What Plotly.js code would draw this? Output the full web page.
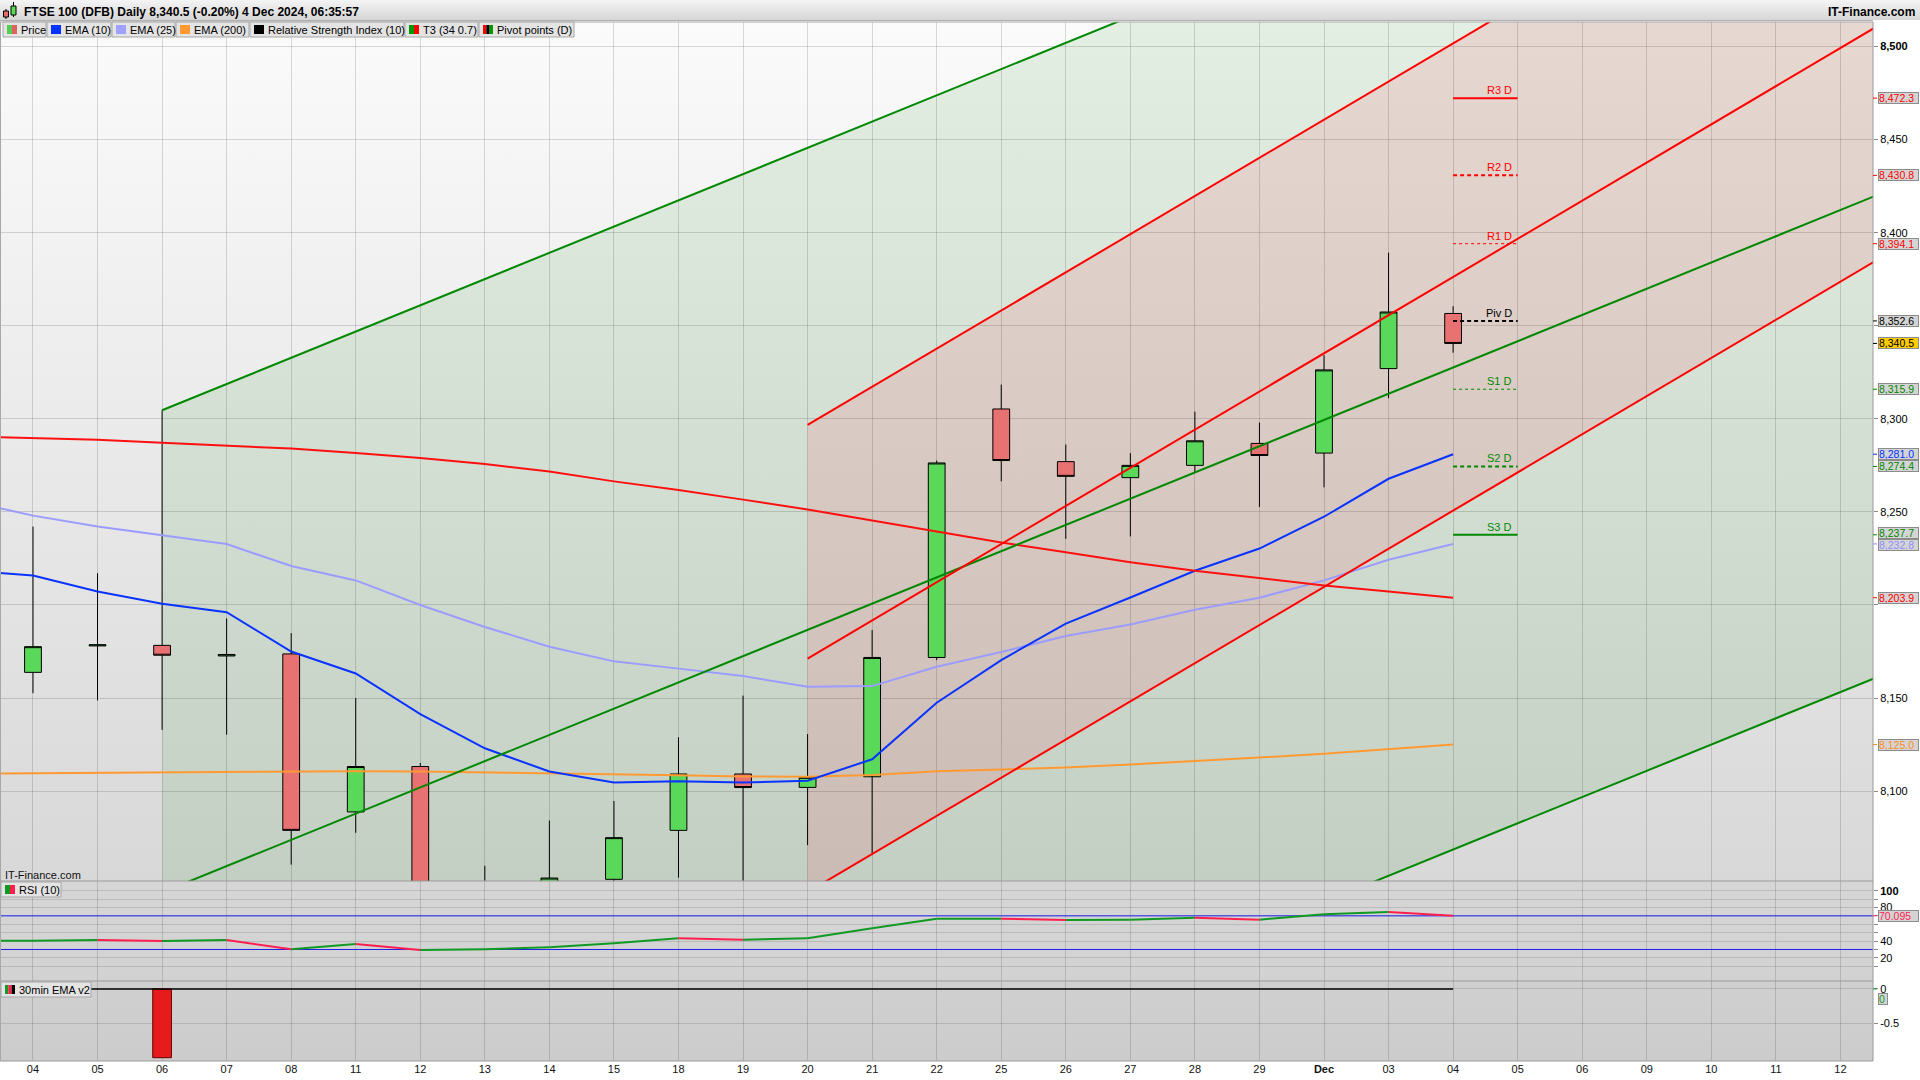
<!DOCTYPE html>
<html><head><meta charset="utf-8">
<script src="https://cdn.plot.ly/plotly-3.0.1.min.js"></script>
<style>
html,body{margin:0;padding:0;background:#fff;}
#chart{width:1920px;height:1080px;background-color:#fff;
background-image:linear-gradient(#f4f4f4,#d6d6d6),linear-gradient(#fbfbfb,#d8d8d8),linear-gradient(#d6d6d6,#d2d2d2),linear-gradient(#d0d0d0,#cccccc);
background-size:1920px 20px,1873px 859px,1873px 100px,1873px 80px;
background-position:0 0,0 22px,0 881px,0 981px;background-repeat:no-repeat;}
</style></head>
<body><div id="chart"></div>
<script>
// ---------- DATA ----------
const axisLabels = ['04','05','06','07','08','11','12','13','14','15','18','19','20','21','22','25','26','27','28','29','Dec','03','04','05','06','09','10','11','12'];
// daily candles 4 Nov .. 4 Dec 2024
const candleOpen  = [8163.8,8178.0,8178.3,8172.6,8173.7,8088.8,8113.2,8030.0,8035.0,8052.6,8078.9,8109.2,8102.0,8107.7,8171.8,8305.3,8277.0,8268.4,8275.0,8286.8,8281.6,8327.0,8356.6];
const candleHigh  = [8242.1,8217.1,8304.6,8192.8,8184.9,8150.0,8115.1,8059.9,8084.2,8094.7,8128.9,8151.3,8130.6,8186.5,8277.6,8318.4,8286.2,8281.6,8303.9,8298.0,8334.2,8389.3,8360.5];
const candleLow   = [8152.6,8148.7,8132.9,8130.3,8060.5,8077.6,8010.0,8000.0,8020.0,8045.0,8053.5,8045.0,8071.0,8066.5,8170.4,8266.4,8235.5,8236.8,8271.0,8252.6,8263.2,8311.1,8335.5];
const candleClose = [8177.6,8178.6,8173.0,8173.4,8078.9,8113.2,8025.0,8050.0,8053.3,8075.0,8109.2,8101.9,8107.4,8171.8,8276.3,8277.6,8269.1,8275.0,8288.2,8280.3,8326.3,8357.4,8340.5];
// indicator series: first value is the prior session (1 Nov), then 4 Nov .. 4 Dec
const ema10  = [8218.4,8215.8,8207.2,8200.7,8196.1,8175.0,8163.2,8141.4,8123.0,8110.5,8104.6,8105.3,8104.6,8105.6,8117.1,8147.5,8170.4,8190.0,8204.0,8218.4,8230.3,8247.4,8267.8,8281.0];
const ema25  = [8255.8,8248.0,8242.1,8237.4,8232.7,8220.9,8213.2,8200.0,8188.2,8177.6,8169.7,8165.8,8161.8,8156.0,8156.4,8166.8,8174.7,8183.3,8189.5,8197.4,8203.9,8213.2,8224.3,8232.8];
const ema200 = [8109.3,8109.5,8109.8,8110.1,8110.4,8110.6,8110.7,8110.5,8110.1,8109.6,8109.0,8108.5,8107.9,8107.7,8108.6,8110.7,8111.6,8112.7,8114.3,8116.0,8118.0,8120.1,8122.5,8125.0];
const t3     = [8290.6,8289.5,8288.8,8287.2,8285.8,8284.0,8281.6,8279.0,8275.7,8271.7,8266.4,8261.8,8256.6,8251.3,8245.4,8239.5,8233.6,8228.3,8223.0,8218.4,8214.5,8210.5,8207.2,8203.9];
const rsi10  = [40.3,40.5,41.3,40.1,41.3,30.2,36.5,29.4,30.2,32.6,37.4,43.3,41.7,43.3,55.2,66.7,66.7,65.1,65.5,67.9,65.5,71.9,74.6,70.095];
const rsiBands = [70, 30];
const ema30min = [0,0,-1,0,0,0,0,0,0,0,0,0,0,0,0,0,0,0,0,0,0,0,0];
// daily pivot points
const pivotNames  = ['R3 D','R2 D','R1 D','Piv D','S1 D','S2 D','S3 D'];
const pivotLevels = [8472.3,8430.8,8394.1,8352.6,8315.9,8274.4,8237.7];
// regression channels (start session index, end index) and their three lines
const greenChannelX      = [2, 29];
const greenChannelUpper  = [8304.6, 8685.3];
const greenChannelMiddle = [8045.6, 8426.3];
const greenChannelLower  = [7786.6, 8167.3];
const redChannelX        = [12, 29];
const redChannelUpper    = [8296.7, 8645.2];
const redChannelMiddle   = [8171.2, 8519.7];
const redChannelLower    = [8045.7, 8394.2];
const mainTickVals = [8100,8150,8200,8250,8300,8350,8400,8450,8500];
const mainTickHidden = [8200, 8350];   // covered by value boxes in the original
const rsiTicks = [10,20,30,40,50,60,70,80,90,100];
const rsiTickLabels = ['','20','','40','','','','80','','100'];   // 60 is covered by the RSI value box

// ---------- GEOMETRY HELPERS ----------
const W = 1873, TOP = 22, BOT = 1061, PH = BOT - TOP;
const px = x => x / W;
const py = y => (BOT - y) / PH;
const yMainRange = [8051.7, 8513.2];
const FONT = '"Liberation Sans", Arial, Helvetica, sans-serif';

const candleX = candleOpen.map((_, i) => i);
const lineX = [-1].concat(candleX);
const lastIdx = candleX[candleX.length - 1];
const last = a => a[a.length - 1];
const fmt1 = v => v.toLocaleString('en-US', {minimumFractionDigits:1, maximumFractionDigits:1});

const traces = [];
traces.push({type:'candlestick', x:candleX, open:candleOpen, high:candleHigh, low:candleLow, close:candleClose,
  xaxis:'x', yaxis:'y', whiskerwidth:0,
  increasing:{line:{color:'#000', width:1}, fillcolor:'#5ad85a'},
  decreasing:{line:{color:'#000', width:1}, fillcolor:'#e87272'},
  hoverinfo:'skip'});
const lineTrace = (y, color, w) => ({type:'scatter', mode:'lines', x:lineX, y, xaxis:'x', yaxis:'y', line:{color, width:w}, hoverinfo:'skip'});
traces.push(lineTrace(ema200, '#ff9a33', 2));
traces.push(lineTrace(ema25, '#9c9cff', 2));
traces.push(lineTrace(ema10, '#0a33ff', 2));
traces.push(lineTrace(t3, '#ff1010', 2));
[greenChannelUpper, greenChannelMiddle, greenChannelLower].forEach(y =>
  traces.push({type:'scatter', mode:'lines', x:greenChannelX, y, xaxis:'x', yaxis:'y', line:{color:'#008800', width:2}, hoverinfo:'skip'}));
[redChannelUpper, redChannelMiddle, redChannelLower].forEach(y =>
  traces.push({type:'scatter', mode:'lines', x:redChannelX, y, xaxis:'x', yaxis:'y', line:{color:'#ff0000', width:2}, hoverinfo:'skip'}));
const pivotColors = ['#ff0000','#ff0000','#ff0000','#000000','#008800','#008800','#008800'];
const pivotDash   = ['solid','4px,3px','3px,3px','4px,3px','3px,3px','4px,3px','solid'];
const pivotWidth  = [2,2,1,2,1,2,2];
pivotLevels.forEach((v, k) => traces.push({type:'scatter', mode:'lines', x:[lastIdx, lastIdx + 1], y:[v, v], xaxis:'x', yaxis:'y',
  line:{color:pivotColors[k], width:pivotWidth[k], dash:pivotDash[k]}, hoverinfo:'skip'}));

rsiBands.forEach(b => traces.push({type:'scatter', mode:'lines', x:[-1, 29], y:[b, b], xaxis:'x', yaxis:'y2', line:{color:'#2020ee', width:1}, hoverinfo:'skip'}));
const upX=[], upY=[], dnX=[], dnY=[];
for (let i = 1; i < rsi10.length; i++) {
  const up = rsi10[i] >= rsi10[i-1];
  (up ? upX : dnX).push(lineX[i-1], lineX[i], null);
  (up ? upY : dnY).push(rsi10[i-1], rsi10[i], null);
}
traces.push({type:'scatter', mode:'lines', x:upX, y:upY, xaxis:'x', yaxis:'y2', line:{color:'#119a22', width:2}, hoverinfo:'skip', connectgaps:false});
traces.push({type:'scatter', mode:'lines', x:dnX, y:dnY, xaxis:'x', yaxis:'y2', line:{color:'#ff1f4f', width:2}, hoverinfo:'skip', connectgaps:false});

const barX = [], barY = [];
ema30min.forEach((v, i) => { if (v !== 0) { barX.push(candleX[i]); barY.push(v); } });
traces.push({type:'scatter', mode:'lines', x:[lineX[0], lastIdx], y:[0, 0], xaxis:'x', yaxis:'y3', line:{color:'#000', width:1.5}, hoverinfo:'skip'});
traces.push({type:'bar', x:barX, y:barY, width:0.29, xaxis:'x', yaxis:'y3', marker:{color:'#e61c1c', line:{color:'#6a0000', width:1}}, hoverinfo:'skip'});

// ---------- SHAPES ----------
const shapes = [];
const pathOf = (xs, lo, hi) => `M${xs[0]},${lo[0]} L${xs[0]},${hi[0]} L${xs[1]},${hi[1]} L${xs[1]},${lo[1]} Z`;
shapes.push({type:'path', xref:'x', yref:'y', layer:'below', fillrule:'evenodd',
  path: pathOf(greenChannelX, greenChannelLower, greenChannelUpper) + ' ' + pathOf(redChannelX, redChannelLower, redChannelUpper),
  fillcolor:'rgba(0,125,0,0.09)', line:{width:0}});
shapes.push({type:'path', xref:'x', yref:'y', layer:'below',
  path: pathOf(redChannelX, redChannelLower, redChannelUpper),
  fillcolor:'rgba(150,80,40,0.2)', line:{width:0}});
const hline = (y, c) => ({type:'line', xref:'paper', yref:'paper', x0:0, x1:1, y0:py(y), y1:py(y), line:{color:c, width:1}, layer:'above'});
shapes.push(hline(22, '#a8a8a8'), hline(881, '#9a9a9a'), hline(981, '#9a9a9a'), hline(1061, '#9a9a9a'));
shapes.push({type:'line', xref:'paper', yref:'paper', x0:1, x1:1, y0:0, y1:1, line:{color:'#9a9a9a', width:1}, layer:'above'});
shapes.push({type:'line', xref:'paper', yref:'paper', x0:px(0.5), x1:px(0.5), y0:0, y1:1, line:{color:'#a8a8a8', width:1}, layer:'above'});

const annotations = [];
const rectPx = (x0, x1, y0, y1, fill, lineC) => ({type:'rect', xref:'paper', yref:'paper', x0:px(x0), x1:px(x1), y0:py(y1), y1:py(y0), fillcolor:fill, line:{color:lineC || fill, width: lineC ? 1 : 0}, layer:'above'});
shapes.push(hline(20.5, '#b0b0b0'));
shapes.push({type:'line', xref:'paper', yref:'paper', x0:px(6), x1:px(6), y0:py(19), y1:py(9), line:{color:'#000', width:1}, layer:'above'});
shapes.push(rectPx(3.5, 8.5, 11, 17, '#e86a6a', '#000'));
shapes.push({type:'line', xref:'paper', yref:'paper', x0:px(13.5), x1:px(13.5), y0:py(17), y1:py(2), line:{color:'#000', width:1}, layer:'above'});
shapes.push(rectPx(11, 16, 6, 15, '#5ad85a', '#000'));
annotations.push({xref:'paper', yref:'paper', x:px(22), y:py(11.5), xanchor:'left', yanchor:'middle', showarrow:false,
  text:'<b>FTSE 100 (DFB) Daily 8,340.5 (-0.20%) 4 Dec 2024, 06:35:57</b>', font:{family:FONT, size:12, color:'#000'}});
annotations.push({xref:'paper', yref:'paper', x:px(1917), y:py(11.5), xanchor:'right', yanchor:'middle', showarrow:false,
  text:'<b>IT-Finance.com</b>', font:{family:FONT, size:12, color:'#000'}});

const legendItems = [
  {text:'Price', x0:3, x1:46, colors:['#55cc55','#e06060']},
  {text:'EMA (10)', x0:47, x1:111, colors:['#0033ff']},
  {text:'EMA (25)', x0:112, x1:175, colors:['#a0a0ff']},
  {text:'EMA (200)', x0:176, x1:249, colors:['#ff9933']},
  {text:'Relative Strength Index (10)', x0:250, x1:404, colors:['#000000']},
  {text:'T3 (34 0.7)', x0:405, x1:478, colors:['#009900','#ff0000']},
  {text:'Pivot points (D)', x0:479, x1:574, colors:['#ff0000','#000000','#009900']},
];
const boxItem = (it, y0, y1) => {
  shapes.push(rectPx(it.x0, it.x1, y0, y1, '#e4e4e4', '#a6a6a6'));
  const n = it.colors.length, sw = 10 / n;
  it.colors.forEach((c, k) => shapes.push(rectPx(it.x0 + 4 + k*sw, it.x0 + 4 + (k+1)*sw, y0 + 3, y1 - 3, c)));
  annotations.push({xref:'paper', yref:'paper', x:px(it.x0 + 16), y:py((y0 + y1)/2), xanchor:'left', yanchor:'middle', showarrow:false,
    text:it.text, font:{family:FONT, size:11, color:'#000'}});
};
legendItems.forEach(it => boxItem(it, 22, 37));
boxItem({text:'RSI (10)', x0:1, x1:61, colors:['#119a22','#ff1f4f']}, 882, 897);
boxItem({text:'30min EMA v2', x0:1, x1:91, colors:['#119a22','#ff1f4f','#000000']}, 982, 997);
annotations.push({xref:'paper', yref:'paper', x:px(3), y:py(875), xanchor:'left', yanchor:'middle', showarrow:false,
  text:'IT-Finance.com', font:{family:FONT, size:11, color:'#111'}});

pivotLevels.forEach((v, k) => annotations.push({xref:'x', yref:'y', x:lastIdx + 1, y:v, xanchor:'right', yanchor:'bottom', xshift:-4, yshift:0,
  showarrow:false, text:pivotNames[k], font:{family:FONT, size:11, color:pivotColors[k]}}));

const valueLabels = [
  {v:pivotLevels[0], c:'#ff0000'}, {v:pivotLevels[1], c:'#ff0000'}, {v:pivotLevels[2], c:'#ff0000'},
  {v:pivotLevels[3], c:'#000000'}, {v:last(candleClose), c:'#000000', bg:'#ffcc00'},
  {v:pivotLevels[4], c:'#008800'}, {v:last(ema10), c:'#0033ff'}, {v:pivotLevels[5], c:'#008800'},
  {v:pivotLevels[6], c:'#008800'}, {v:last(ema25), c:'#8f8fff'}, {v:last(t3), c:'#ff0000'}, {v:last(ema200), c:'#ff8c1a'}
];
const pxPerPt = 859 / (yMainRange[1] - yMainRange[0]);
valueLabels.forEach(l => { l.p = TOP + (yMainRange[1] - l.v) * pxPerPt; l.a = l.p; });
valueLabels.sort((a, b) => a.p - b.p);
for (let it = 0; it < 30; it++) {
  for (let i = 1; i < valueLabels.length; i++) {
    const d = valueLabels[i].a - valueLabels[i-1].a;
    if (d < 12) { const s = (12 - d) / 2; valueLabels[i].a += s; valueLabels[i-1].a -= s; }
  }
}
const boxLabel = (yref, v, text, color, bg, shift) => {
  annotations.push({xref:'paper', yref, x:px(1878), y:v, xanchor:'left', yanchor:'middle', yshift:shift, showarrow:false,
    text, font:{family:FONT, size:10.5, color}, bgcolor:bg || '#d4d4d4', bordercolor:'#8c8c8c', borderwidth:1, borderpad:0,
    width:text.length > 2 ? 39 : 8, height:10, align:'left'});
  shapes.push({type:'line', xref:'paper', yref, x0:1, x1:px(1877), y0:v, y1:v, line:{color, width:1}, layer:'above'});
};
valueLabels.forEach(l => boxLabel('y', l.v, fmt1(l.v), l.c, l.bg, -(l.a - l.p)));
boxLabel('y2', last(rsi10), last(rsi10).toFixed(3), '#ff2255', null, 0);
boxLabel('y3', 0, '0', '#119a22', null, -10);

const mainTickText = mainTickVals.map(v => mainTickHidden.includes(v) ? '' : (v === 8500 ? '<b>8,500</b>' : v.toLocaleString('en-US')));
const rsiTickText = rsiTickLabels.map(t => t === '100' ? '<b>100</b>' : t);

const grid = 'rgba(0,0,0,0.14)';
const layout = {
  width:1920, height:1080,
  margin:{l:0, r:47, t:22, b:19, pad:0},
  paper_bgcolor:'rgba(0,0,0,0)', plot_bgcolor:'rgba(0,0,0,0)',
  showlegend:false, hovermode:false, boxgap:0.74, boxgroupgap:0, bargap:0,
  font:{family:FONT, size:11, color:'#000'},
  xaxis:{domain:[0,1], range:[-0.511, 28.505], anchor:'y3', tickmode:'array', tickvals:axisLabels.map((_, i) => i),
    ticktext:axisLabels.map(t => t === 'Dec' ? '<b>Dec</b>' : t), showgrid:true, gridcolor:grid, gridwidth:1,
    zeroline:false, showline:false, ticks:'', tickfont:{family:FONT, size:11, color:'#111'}, rangeslider:{visible:false}, fixedrange:true},
  yaxis:{domain:[py(881), 1], range:yMainRange, side:'right', anchor:'x', tickmode:'array', tickvals:mainTickVals, ticktext:mainTickText,
    showgrid:true, gridcolor:grid, zeroline:false, showline:false, ticks:'outside', ticklen:4, tickcolor:'#888',
    tickfont:{family:FONT, size:11, color:'#000'}, fixedrange:true},
  yaxis2:{domain:[py(981), py(881)], range:[-7.5, 111.5], side:'right', anchor:'x', tickmode:'array', tickvals:rsiTicks, ticktext:rsiTickText,
    showgrid:true, gridcolor:'rgba(0,0,0,0.12)', zeroline:false, showline:false, ticks:'outside', ticklen:4, tickcolor:'#888',
    tickfont:{family:FONT, size:11, color:'#000'}, fixedrange:true},
  yaxis3:{domain:[0, py(981)], range:[-1.048, 0.116], side:'right', anchor:'x', tickmode:'array', tickvals:[-0.5, 0], ticktext:['-0.5','0'],
    showgrid:true, gridcolor:'rgba(0,0,0,0.12)', zeroline:false, showline:false, ticks:'outside', ticklen:4, tickcolor:'#888',
    tickfont:{family:FONT, size:11, color:'#000'}, fixedrange:true},
  shapes, annotations
};
Plotly.newPlot('chart', traces, layout, {staticPlot:true, displayModeBar:false});
</script></body></html>
